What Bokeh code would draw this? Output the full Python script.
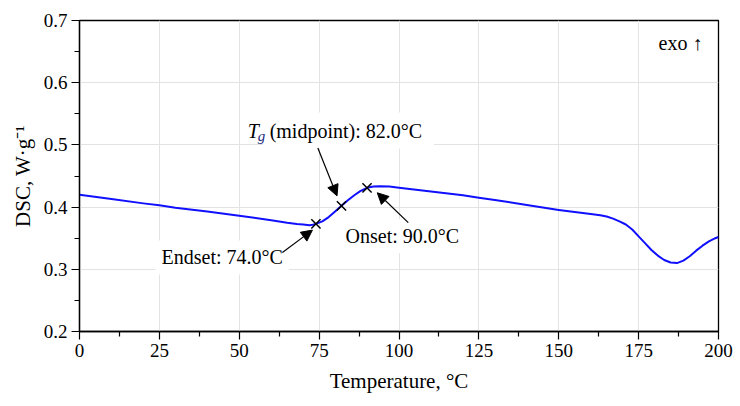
from bokeh.plotting import figure
from bokeh.models import (Arrow, NormalHead, Label, FixedTicker, Range1d)
from bokeh.embed import file_html
from bokeh.resources import INLINE

# ---- data ----
temperature = [0, 10, 20, 25, 30, 40, 50, 60, 65, 68, 70, 72, 73, 74, 76, 78, 80, 82, 84, 86, 88, 90,
               92, 94, 97, 100, 110, 120, 125, 130, 140, 150, 155, 160, 163, 165, 167, 169, 171, 173,
               175, 177, 179, 181, 183, 185, 187, 189, 191, 193, 195, 197, 199, 200]
dsc = [0.420, 0.413, 0.406, 0.403, 0.399, 0.393, 0.386, 0.379, 0.375, 0.373, 0.372, 0.371, 0.3715,
       0.373, 0.377, 0.384, 0.393, 0.402, 0.411, 0.419, 0.426, 0.431,
       0.433, 0.4335, 0.433, 0.431, 0.425, 0.419, 0.415, 0.4115, 0.4035, 0.3955, 0.392, 0.389, 0.387,
       0.385, 0.3815, 0.377, 0.372, 0.364, 0.353, 0.342, 0.331, 0.322, 0.315, 0.311, 0.310, 0.314,
       0.321, 0.330, 0.338, 0.345, 0.350, 0.352]

point_names = ["Endset", "Tg (midpoint)", "Onset"]
point_t = [74.0, 82.0, 90.0]
point_dsc = [0.373, 0.402, 0.431]

x_ticks = [0, 25, 50, 75, 100, 125, 150, 175, 200]
x_minor_ticks = [12.5, 37.5, 62.5, 87.5, 112.5, 137.5, 162.5, 187.5]
y_ticks = [0.2, 0.3, 0.4, 0.5, 0.6, 0.7]
y_minor_ticks = [0.25, 0.35, 0.45, 0.55, 0.65]

FONT = "Liberation Serif"

p = figure(frame_width=639, frame_height=311, output_backend="svg", toolbar_location=None,
           x_range=Range1d(0, 200), y_range=Range1d(0.2, 0.7),
           min_border_left=79, min_border_right=22, min_border_top=20, min_border_bottom=75,
           background_fill_color="white", border_fill_color="white")
p.outline_line_color = "black"
p.outline_line_width = 1.3

p.xaxis.ticker = FixedTicker(ticks=x_ticks, minor_ticks=x_minor_ticks)
p.yaxis.ticker = FixedTicker(ticks=y_ticks, minor_ticks=y_minor_ticks)
p.xgrid.ticker = FixedTicker(ticks=x_ticks)
p.ygrid.ticker = FixedTicker(ticks=y_ticks)

for ax in (p.xaxis, p.yaxis):
    ax.axis_line_color = "black"
    ax.axis_line_width = 1.3
    ax.major_tick_line_color = "black"
    ax.minor_tick_line_color = "black"
    ax.major_tick_line_width = 1.2
    ax.minor_tick_line_width = 1.2
    ax.major_tick_in = 0
    ax.major_tick_out = 8
    ax.minor_tick_in = 0
    ax.minor_tick_out = 5
    ax.major_label_text_font = FONT
    ax.major_label_text_font_size = "19px"
    ax.major_label_text_color = "black"
    ax.axis_label_text_font = FONT
    ax.axis_label_text_font_size = "21px"
    ax.axis_label_text_font_style = "normal"
    ax.axis_label_text_color = "black"
    ax.major_label_standoff = 4

p.xaxis.axis_label = "Temperature, °C"
p.yaxis.axis_label = "DSC, W·g⁻¹"
p.xaxis.axis_label_standoff = 9
p.yaxis.axis_label_standoff = 6

p.xgrid.grid_line_color = "#e3e3e3"
p.ygrid.grid_line_color = "#e3e3e3"
p.xgrid.grid_line_width = 1
p.ygrid.grid_line_width = 1

# curve
p.line(temperature, dsc, line_color="#1010ff", line_width=2, line_join="round")

def lab(x, y, text, xo=0, yo=0, style="normal", size="20px", bg="white", pad=5, baseline="middle", align="left", color="black"):
    l = Label(x=x, y=y, text=text, x_offset=xo, y_offset=yo, text_font=FONT,
              text_font_size=size, text_font_style=style, text_color=color,
              text_baseline=baseline, text_align=align,
              background_fill_color=bg, padding=pad)
    p.add_layout(l)
    return l

lab(23.8, 0.319, "Endset: 74.0°C", pad=6)
lab(81.4, 0.353, "Onset: 90.0°C", pad=6)
lab(52.0, 0.523, " (midpoint): 82.0°C", xo=17, baseline="alphabetic", pad=7)
lab(52.0, 0.523, "T", style="italic", baseline="alphabetic", pad=2)
lab(52.0, 0.523, "g", xo=11, yo=-5, style="italic", size="15px", baseline="alphabetic", pad=1, bg=None, color="#1c2a80")
lab(200, 0.7, "exo ↑", xo=-16, yo=-22, align="right", bg=None, pad=0)

# arrows
head = dict(size=11, fill_color="black", line_color="black")
p.add_layout(Arrow(end=NormalHead(**head), x_start=63.5, y_start=0.327, x_end=72.9, y_end=0.363,
                   line_color="black", line_width=1.2))
p.add_layout(Arrow(end=NormalHead(**head), x_start=74.6, y_start=0.495, x_end=80.6, y_end=0.418,
                   line_color="black", line_width=1.2))
p.add_layout(Arrow(end=NormalHead(**head), x_start=102.9, y_start=0.375, x_end=93.2, y_end=0.423,
                   line_color="black", line_width=1.2))

# markers
p.scatter(point_t, point_dsc, marker="x", size=13, line_color="black", line_width=1.5)

open("out.html", "w").write(file_html(p, INLINE))
